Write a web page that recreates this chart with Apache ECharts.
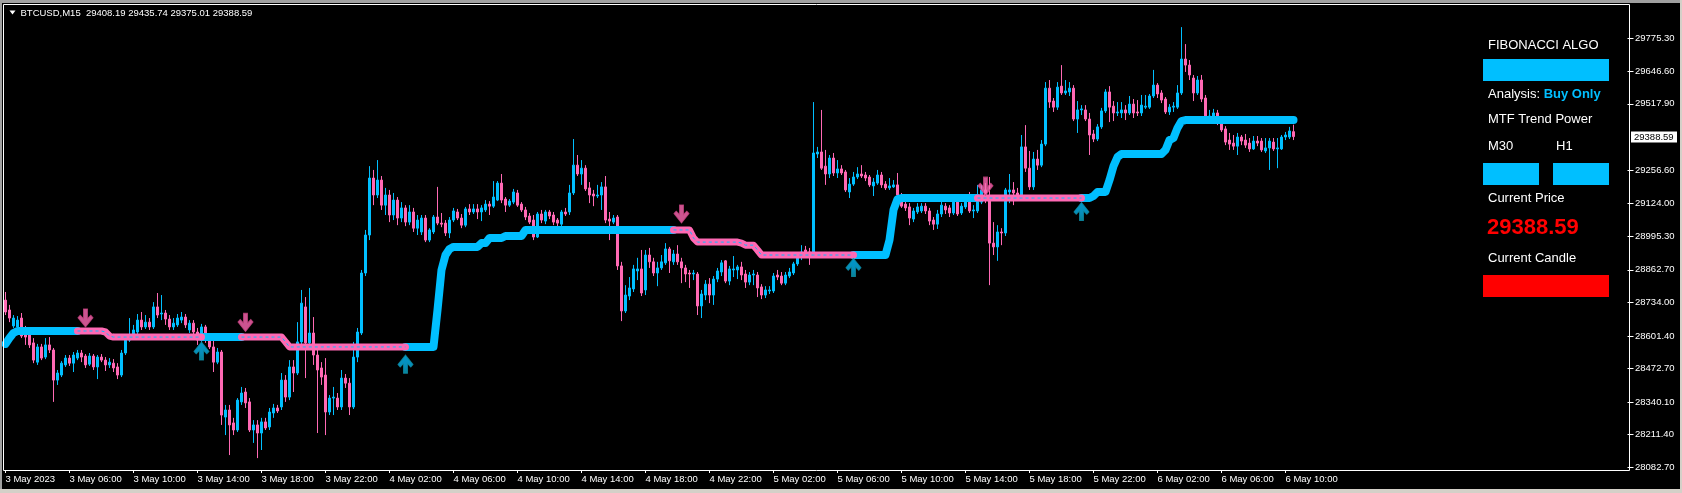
<!DOCTYPE html>
<html><head><meta charset="utf-8">
<script src="https://cdn.jsdelivr.net/npm/echarts@6/dist/echarts.min.js"></script>
<style>html,body{margin:0;padding:0;background:#000;overflow:hidden}#c{width:1682px;height:493px}</style>
</head><body><div id="c"></div>
<script>
const OPEN=[28743,28704,28641,28637,28672,28625,28605,28574,28498,28558,
28518,28566,28546,28427,28447,28487,28514,28494,28514,28534,
28522,28490,28522,28479,28518,28506,28487,28494,28479,28447,
28534,28585,28605,28617,28664,28637,28656,28637,28716,28688,
28692,28668,28637,28645,28664,28676,28625,28652,28617,28585,
28637,28585,28558,28498,28538,28281,28309,28258,28230,28341,
28380,28341,28230,28250,28218,28262,28242,28297,28317,28321,
28427,28360,28479,28455,28578,28716,28574,28613,28526,28475,
28447,28301,28356,28356,28321,28435,28415,28321,28518,28613,
28850,29000,29225,29158,29217,29118,29158,29079,29138,29067,
29107,29051,29091,29027,29012,29067,28980,29012,29071,29047,
29047,29008,29059,29091,29067,29039,29103,29091,29103,29091,
29099,29122,29114,29138,29205,29142,29118,29130,29166,29122,
29099,29075,29059,28992,29083,29055,29091,29079,29059,29043,
29091,29091,29166,29276,29241,29264,29186,29162,29154,29158,
29190,29063,29051,29071,28878,28700,28759,28787,28858,28866,
28783,28921,28894,28850,28870,28890,28945,28894,28925,28894,
28870,28850,28846,28846,28720,28763,28806,28763,28826,28854,
28898,28818,28862,28862,28874,28846,28814,28842,28842,28795,
28763,28779,28779,28842,28838,28810,28838,28850,28886,28913,
28941,28933,28929,29320,29328,29272,29241,29304,29245,29261,
29249,29170,29201,29229,29241,29237,29229,29194,29205,29237,
29201,29186,29190,29198,29138,29122,29111,29063,29091,29095,
29114,29095,29059,29043,29083,29114,29107,29087,29130,29087,
29111,29130,29095,29095,29130,29178,29138,28968,28953,29012,
29008,29170,29178,29166,29158,29348,29264,29190,29300,29276,
29359,29580,29529,29505,29588,29561,29565,29580,29458,29494,
29494,29458,29399,29379,29427,29490,29565,29509,29482,29482,
29494,29482,29517,29486,29482,29505,29505,29549,29592,29561,
29537,29486,29505,29505,29561,29695,29671,29620,29561,29612,
29541,29466,29466,29482,29442,29419,29375,29363,29351,29387,
29375,29363,29340,29371,29371,29332,29344,29367,29340,29340,
29387,29387,29408.19];
const CLOSE=[28696,28672,28672,28664,28601,28597,28566,28506,28558,28514,
28566,28546,28427,28455,28494,28514,28494,28526,28534,28518,
28487,28522,28479,28518,28506,28487,28498,28475,28447,28534,
28585,28605,28625,28664,28637,28656,28637,28716,28684,28692,
28668,28637,28652,28672,28676,28645,28652,28617,28585,28637,
28585,28558,28498,28538,28289,28309,28250,28230,28348,28376,
28337,28230,28250,28218,28262,28238,28301,28317,28305,28427,
28360,28479,28455,28578,28731,28574,28613,28526,28467,28439,
28301,28356,28360,28321,28435,28415,28321,28518,28617,28850,
29000,29225,29158,29217,29118,29158,29079,29138,29067,29107,
29051,29091,29027,29059,29067,28980,29020,29071,29047,29043,
29008,29059,29095,29067,29039,29103,29091,29103,29091,29107,
29122,29114,29150,29205,29138,29118,29134,29170,29118,29099,
29071,29051,28992,29083,29059,29091,29075,29051,29047,29091,
29083,29166,29276,29241,29264,29182,29158,29154,29158,29190,
29059,29055,29067,28878,28700,28763,28791,28866,28866,28771,
28921,28894,28850,28870,28894,28945,28898,28925,28894,28870,
28846,28846,28850,28720,28767,28806,28763,28826,28858,28890,
28818,28866,28866,28874,28842,28814,28842,28846,28791,28763,
28783,28783,28838,28834,28810,28842,28854,28886,28913,28933,
28933,28913,29324,29328,29264,29241,29304,29245,29261,29245,
29178,29201,29229,29241,29233,29225,29198,29209,29237,29198,
29186,29194,29198,29158,29114,29107,29067,29095,29111,29114,
29095,29055,29043,29083,29118,29099,29087,29130,29083,29114,
29130,29095,29099,29130,29178,29138,28968,28953,29012,29008,
29178,29178,29166,29158,29348,29264,29190,29300,29276,29359,
29580,29525,29505,29584,29561,29569,29580,29458,29494,29498,
29458,29395,29379,29427,29490,29565,29505,29482,29486,29494,
29482,29517,29482,29482,29513,29509,29549,29592,29557,29533,
29486,29505,29509,29561,29695,29671,29632,29561,29612,29537,
29470,29470,29482,29466,29415,29367,29359,29351,29387,29371,
29355,29340,29371,29363,29336,29344,29371,29340,29344,29387,
29395,29411,29388.59];
const LOW=[28684,28656,28633,28625,28593,28566,28554,28494,28487,28506,
28510,28534,28341,28408,28439,28479,28483,28459,28506,28498,
28475,28483,28467,28431,28498,28463,28475,28459,28431,28439,
28526,28578,28597,28609,28625,28629,28625,28629,28672,28664,
28645,28625,28625,28637,28652,28633,28613,28601,28566,28578,
28574,28550,28459,28490,28250,28210,28131,28210,28222,28329,
28317,28222,28179,28119,28151,28230,28230,28278,28297,28309,
28341,28348,28380,28447,28566,28435,28566,28487,28218,28408,
28210,28289,28289,28309,28309,28396,28289,28313,28498,28605,
28838,28980,29118,29146,29099,29079,29051,29059,29039,29051,
29035,29039,29012,29000,29000,28972,28972,29004,29039,29031,
28996,28988,29051,29059,29027,29031,29079,29083,29063,29055,
29091,29079,29107,29134,29126,29091,29111,29122,29111,29091,
29059,29043,28980,28988,29047,29043,29063,29039,29035,29035,
29075,29079,29158,29233,29198,29174,29126,29114,29146,29099,
29047,28980,29043,28862,28660,28692,28743,28775,28822,28759,
28763,28870,28838,28798,28862,28882,28850,28882,28882,28810,
28814,28791,28822,28684,28672,28743,28731,28724,28814,28838,
28810,28802,28834,28826,28822,28791,28802,28802,28755,28747,
28751,28767,28771,28822,28802,28802,28830,28842,28878,28901,
28917,28882,28917,29304,29257,29198,29225,29233,29225,29237,
29170,29146,29194,29221,29225,29213,29190,29154,29198,29186,
29178,29178,29186,29150,29107,29095,29039,29051,29083,29087,
29083,29039,29020,29024,29071,29083,29071,29079,29075,29079,
29103,29087,29067,29087,29122,29126,28802,28921,28898,28960,
28996,29126,29118,29142,29150,29249,29178,29178,29257,29268,
29351,29502,29486,29494,29553,29553,29549,29450,29403,29474,
29450,29316,29367,29371,29419,29482,29446,29450,29470,29462,
29454,29474,29462,29470,29470,29498,29498,29541,29541,29521,
29478,29474,29486,29498,29553,29644,29612,29529,29553,29525,
29462,29446,29446,29434,29407,29355,29336,29336,29316,29355,
29344,29328,29336,29351,29328,29324,29257,29332,29264,29336,
29375,29379,29375.01];
const HIGH=[28775,28724,28684,28680,28692,28641,28625,28593,28570,28570,
28593,28597,28554,28467,28502,28526,28526,28538,28546,28546,
28530,28534,28530,28526,28530,28518,28514,28510,28494,28546,
28601,28672,28645,28688,28696,28684,28672,28735,28771,28763,
28704,28684,28672,28688,28696,28688,28664,28664,28633,28649,
28645,28613,28585,28554,28546,28329,28329,28278,28356,28400,
28396,28356,28269,28269,28278,28278,28317,28333,28329,28455,
28447,28506,28506,28656,28783,28755,28791,28676,28546,28498,
28514,28368,28400,28376,28467,28451,28435,28578,28633,28862,
29020,29272,29257,29296,29233,29186,29178,29166,29150,29130,
29118,29118,29107,29079,29079,29079,29027,29079,29190,29087,
29059,29071,29107,29103,29083,29111,29122,29122,29122,29118,
29138,29134,29213,29213,29241,29150,29142,29182,29178,29130,
29111,29087,29079,29091,29099,29099,29099,29091,29067,29099,
29107,29198,29379,29316,29296,29276,29209,29178,29198,29209,
29233,29091,29079,29079,28894,28802,28834,28882,28910,28941,
28941,28949,28910,28894,28921,28968,28953,28941,28960,28910,
28882,28862,28862,28854,28783,28822,28830,28838,28870,28901,
28901,28878,28917,28882,28894,28862,28854,28862,28854,28806,
28798,28798,28850,28862,28854,28854,28870,28894,28921,28960,
28957,28949,29525,29348,29494,29336,29316,29324,29296,29276,
29257,29225,29249,29268,29276,29249,29237,29225,29257,29249,
29213,29225,29217,29245,29166,29138,29126,29107,29126,29126,
29126,29107,29071,29099,29138,29126,29118,29146,29142,29126,
29142,29170,29118,29198,29198,29205,29229,29051,29039,29027,
29186,29241,29209,29186,29395,29434,29332,29328,29336,29375,
29604,29612,29541,29604,29671,29612,29604,29592,29529,29513,
29513,29482,29415,29438,29502,29576,29588,29529,29525,29525,
29513,29549,29537,29533,29553,29553,29557,29652,29600,29572,
29545,29517,29525,29592,29821,29754,29691,29632,29628,29632,
29553,29494,29498,29494,29462,29430,29403,29395,29403,29395,
29399,29383,29391,29391,29383,29383,29383,29383,29383,29395,
29407,29427,29435.74];
const FIB=[28570,28593,28613,
28621,28621,28621,28621,28621,28621,28621,28621,28621,28621,28621,
28621,28621,28621,28621,28621,28621,28621,28621,28621,28621,28621,
28617,28601,
28597,28597,28597,28597,28597,28597,28597,28597,28597,28597,
28597,28597,28597,28597,28597,28597,28597,28597,28597,28597,
28597,28597,28597,28597,28597,28597,28597,28597,28597,28597,
28597,28597,28597,28597,28597,28597,28597,28597,28597,28597,
28597,28597,28597,
28578,
28558,28558,28558,28558,28558,28558,28558,28558,28558,28558,
28558,28558,28558,28558,28558,28558,28558,28558,28558,28558,
28558,28558,28558,28558,28558,28558,28558,28558,28558,28558,
28558,28558,28558,28558,28558,28558,28558,
28704,28862,28921,28945,
28953,28953,28953,28953,28953,28953,28953,
28968,28968,
28988,28988,28988,28988,
28996,28996,28996,28996,28996,
29020,29020,29020,29020,29020,29020,29020,29020,29020,29020,
29020,29020,29020,29020,29020,29020,29020,29020,29020,29020,
29020,29020,29020,29020,29020,29020,29020,29020,29020,29020,
29020,29020,29020,29020,29020,29020,29020,29020,29020,29020,
29020,29020,
28988,
28972,28972,28972,28972,28972,28972,28972,28972,28972,28972,28972,
28968,
28960,28960,28960,
28941,
28921,28921,28921,28921,28921,28921,28921,28921,28921,28921,
28921,28921,28921,28921,28921,28921,28921,28921,28921,28921,
28921,28921,28921,28921,28921,28921,28921,28921,28921,28921,
28921,28921,
28980,29099,29142,
29146,29146,29146,29146,29146,29146,29146,29146,29146,29146,
29146,29146,29146,29146,29146,29146,29146,29146,29146,29146,
29146,29146,29146,29146,29146,29146,29146,29146,29146,29146,
29146,29146,29146,29146,29146,29146,29146,29146,29146,29146,
29146,29146,29146,29146,29146,29146,29146,29146,
29154,
29170,29170,29170,
29217,29272,29308,
29320,29320,29320,29320,29320,29320,29320,29320,29320,29320,29320,
29336,29375,29383,29423,29450,
29454,29454,29454,29454,29454,29454,29454,29454,29454,29454,
29454,29454,29454,29454,29454,29454,29454,29454,29454,29454,
29454,29454,29454,29454,29454,29454,29454,29454];
const TREND_SEGMENTS=[[0,18,'up'],[18,49,'down'],[49,59,'up'],[59,100,'down'],[100,167,'up'],[167,212,'down'],[212,243,'up'],[243,269,'down'],[269,322,'up']];
const SIGNALS=[[20,'down',28672],[49,'up',28542],[60,'down',28655],[100,'up',28490],[169,'down',29083],[212,'up',28872],[245,'down',29193],[269,'up',29093]];
const Y_TICKS=[28082.70,28211.40,28340.10,28472.70,28601.40,28734.00,28862.70,28995.30,29124.00,29256.60,29517.90,29646.60,29775.30];
const TIME_LABELS=['3 May 2023','3 May 06:00','3 May 10:00','3 May 14:00','3 May 18:00','3 May 22:00','4 May 02:00','4 May 06:00','4 May 10:00','4 May 14:00','4 May 18:00','4 May 22:00','5 May 02:00','5 May 06:00','5 May 10:00','5 May 14:00','5 May 18:00','5 May 22:00','6 May 02:00','6 May 06:00','6 May 10:00'];
const LABEL_STEP=16;
const SLOTS=406;
const Y_MIN=28072.04, Y_MAX=29912.3;

const BLUE='#00BFFF', PINK='#FF69B4';
const FONT='"Liberation Sans", Arial, sans-serif';
const N=OPEN.length;
const cats=[]; for(let i=0;i<SLOTS;i++) cats.push(String(i));
const candleData=OPEN.map((o,i)=>[o,CLOSE[i],LOW[i],HIGH[i]]);
const fibUp=FIB.map(()=>null), fibDown=FIB.map(()=>null);
TREND_SEGMENTS.forEach(([a,b,t])=>{for(let i=a;i<=b;i++){(t==='up'?fibUp:fibDown)[i]=FIB[i];}});
const downArrow='path://M5.5,0 L9.5,0 L9.5,9.5 L12.8,6.2 L15,8.6 L7.5,18 L0,8.6 L2.2,6.2 L5.5,9.5 Z';
const upArrow='path://M5.5,18 L9.5,18 L9.5,8.5 L12.8,11.8 L15,9.4 L7.5,0 L0,9.4 L2.2,11.8 L5.5,8.5 Z';
const downPts=SIGNALS.filter(s=>s[1]==='down').map(s=>[String(s[0]),s[2]]);
const upPts=SIGNALS.filter(s=>s[1]==='up').map(s=>[String(s[0]),s[2]]);
const showIdx=(idx)=>idx%LABEL_STEP===0 && idx/LABEL_STEP<TIME_LABELS.length;

const chart=echarts.init(document.getElementById('c'),null,{renderer:'canvas'});
const txt=(id,x,y,text,extra)=>Object.assign({type:'text',id:id,z:100,style:Object.assign({x:x,y:y,text:text,fill:'#fff',font:'13px '+FONT,verticalAlign:'middle'},extra||{})});
const graphics=[
 {type:'rect',id:'fTop',shape:{x:0,y:0,width:1682,height:3},style:{fill:'#a0a0a0'},z:100},
 {type:'rect',id:'fLeft',shape:{x:0,y:0,width:2,height:493},style:{fill:'#a0a0a0'},z:100},
 {type:'rect',id:'fBot',shape:{x:0,y:489,width:1682,height:4},style:{fill:'#d4d0c8'},z:100},
 {type:'rect',id:'fRight',shape:{x:1680,y:0,width:2,height:493},style:{fill:'#d4d0c8'},z:100},
 {type:'rect',id:'plotBorder',shape:{x:3.5,y:4.5,width:1626,height:466},style:{fill:null,stroke:'#fff',lineWidth:1},z:90},
 {type:'polygon',id:'tri',shape:{points:[[9.5,10.5],[15.5,10.5],[12.5,14.5]]},style:{fill:'#fff'},z:100},
 txt('hdr',20.5,13,'BTCUSD,M15  '+OPEN[N-1].toFixed(2)+' '+HIGH[N-1].toFixed(2)+' '+LOW[N-1].toFixed(2)+' '+CLOSE[N-1].toFixed(2),{font:'9.5px '+FONT}),
 txt('t1',1488,45,'FIBONACCI ALGO'),
 {type:'rect',id:'r1',shape:{x:1483,y:59,width:126,height:22},style:{fill:BLUE},z:100},
 txt('t2',1488,94,'Analysis: {b|Buy Only}',{rich:{b:{fill:BLUE,font:'bold 13px '+FONT}}}),
 txt('t3',1488,119.5,'MTF Trend Power'),
 txt('t4',1488,146,'M30'),
 txt('t5',1556,146,'H1'),
 {type:'rect',id:'r2',shape:{x:1483,y:163,width:56,height:22},style:{fill:BLUE},z:100},
 {type:'rect',id:'r3',shape:{x:1553,y:163,width:56,height:22},style:{fill:BLUE},z:100},
 txt('t6',1488,198,'Current Price'),
 txt('t7',1487,227.5,CLOSE[N-1].toFixed(2),{fill:'#FF0000',font:'bold 22px '+FONT}),
 txt('t8',1488,258,'Current Candle'),
 {type:'rect',id:'r4',shape:{x:1483,y:275,width:126,height:22},style:{fill:'#FF0000'},z:100}
];

chart.setOption({
 animation:false,
 backgroundColor:'#000',
 grid:{left:3.5,right:54.5,top:4,bottom:23,show:false},
 xAxis:{type:'category',data:cats,boundaryGap:true,
  axisLine:{show:false},
  axisTick:{show:true,alignWithLabel:true,interval:showIdx,length:3,lineStyle:{color:'#fff'}},
  axisLabel:{show:true,interval:showIdx,formatter:(v,idx)=>TIME_LABELS[Math.round(Number(v)/LABEL_STEP)],color:'#fff',fontSize:9.5,fontFamily:FONT,align:'left',margin:4},
  splitLine:{show:false}},
 yAxis:{type:'value',position:'right',min:Y_MIN,max:Y_MAX,scale:true,
  axisLine:{show:false},
  axisTick:{show:true,length:6,customValues:Y_TICKS,lineStyle:{color:'#fff'}},
  axisLabel:{show:true,customValues:Y_TICKS,formatter:v=>Number(v).toFixed(2),color:'#fff',fontSize:9.5,fontFamily:FONT,margin:7.5},
  splitLine:{show:false}},
 series:[
  {type:'candlestick',data:candleData,barWidth:2,z:2,
   itemStyle:{color:BLUE,color0:PINK,borderColor:BLUE,borderColor0:PINK,borderColorDoji:BLUE,borderWidth:1}},
  {type:'line',data:fibUp,z:3,symbol:'none',connectNulls:false,silent:true,
   lineStyle:{color:BLUE,width:8,cap:'round',join:'round'}},
  {type:'line',data:fibDown,z:3,symbol:'none',connectNulls:false,silent:true,
   lineStyle:{color:PINK,width:7,cap:'round',join:'round'}},
  {type:'line',data:fibDown,z:4,symbol:'none',connectNulls:false,silent:true,
   lineStyle:{color:BLUE,width:1,type:[3,3]}},
  {type:'scatter',data:downPts,z:5,symbol:downArrow,symbolSize:[15,18],silent:true,
   itemStyle:{color:PINK,borderColor:'#C94482',borderWidth:1}},
  {type:'scatter',data:upPts,z:5,symbol:upArrow,symbolSize:[15,18],silent:true,
   itemStyle:{color:new echarts.graphic.LinearGradient(0,0,0,1,[{offset:0,color:BLUE},{offset:0.6,color:'#08B0E8'},{offset:1,color:'#0AA3B8'}]),borderColor:'#0C8FA8',borderWidth:1}}
 ],
 graphic:graphics
});
const py=chart.convertToPixel({yAxisIndex:0},CLOSE[N-1]);
chart.setOption({graphic:[
 {type:'rect',id:'cpBox',shape:{x:1631,y:Math.round(py)-5.5,width:46,height:11},style:{fill:'#fff'},z:100},
 txt('cpTxt',1634,Math.round(py)+0.5,CLOSE[N-1].toFixed(2),{fill:'#000',font:'9.5px '+FONT})
]});
</script></body></html>
